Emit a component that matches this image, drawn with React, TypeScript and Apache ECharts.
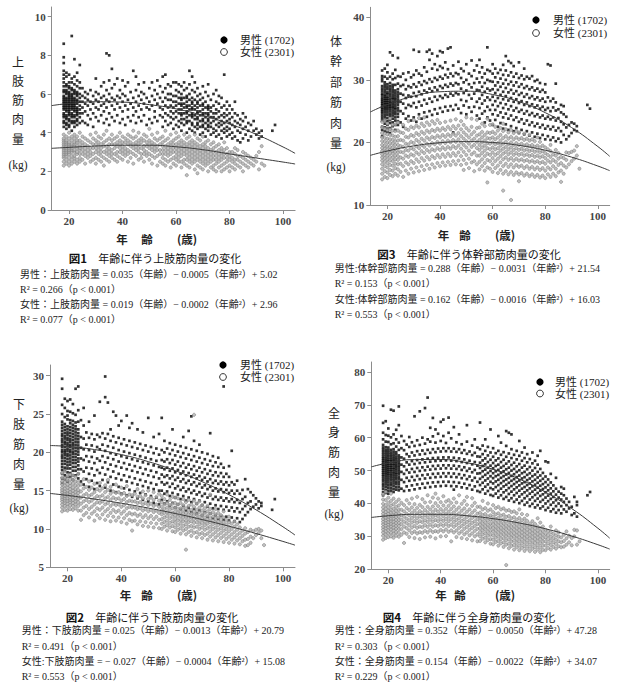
import React, { useEffect, useRef } from "react";
import * as echarts from "echarts";

// ---------- DATA ----------
// Each row: [age, value, value, ...]
const UL_M: number[][] = [
  [18, 4.3, 4.6, 4.8, 5.0, 5.2, 5.4, 5.5, 5.7, 5.9, 6.1, 6.4, 6.8, 7.2, 7.6, 7.9, 8.6],
  [19, 4.2, 4.5, 4.7, 4.9, 5.1, 5.3, 5.4, 5.6, 5.8, 6.0, 6.2, 6.5, 6.9, 7.1],
  [20, 4.4, 4.6, 4.9, 5.0, 5.2, 5.3, 5.5, 5.6, 5.8, 5.9, 6.1, 6.3, 6.6, 7.0],
  [21, 4.1, 4.5, 4.8, 5.0, 5.2, 5.4, 5.5, 5.7, 5.9, 6.0, 6.3, 6.6, 6.8, 9.0],
  [22, 4.3, 4.6, 4.8, 5.1, 5.3, 5.4, 5.6, 5.8, 6.0, 6.2, 6.5, 6.9, 7.8],
  [23, 4.4, 4.7, 4.9, 5.1, 5.3, 5.5, 5.7, 5.9, 6.1, 6.4, 6.7, 7.1],
  [24, 4.5, 4.8, 5.0, 5.2, 5.4, 5.6, 5.8, 6.0, 6.3, 6.6, 7.5],
  [25, 4.6, 5.0, 5.3, 5.6, 5.9, 6.3],
  [26, 4.5, 5.1, 5.5, 5.8, 6.1],
  [27, 4.4, 4.9, 5.4, 5.7, 6.0],
  [28, 4.7, 5.2, 5.6, 6.2],
  [29, 4.3, 5.0, 5.5, 5.9],
  [30, 4.8, 5.3, 5.7, 6.1, 6.8],
  [31, 4.6, 5.2, 5.6, 6.0],
  [32, 4.9, 5.4, 5.8, 6.4],
  [33, 4.5, 5.1, 5.5, 5.9, 6.6],
  [34, 4.7, 5.3, 5.7, 6.2, 8.1],
  [35, 4.4, 5.0, 5.6, 6.0, 6.7, 8.0],
  [36, 4.8, 5.4, 5.8, 6.3, 7.3],
  [37, 4.6, 5.2, 5.7, 6.5],
  [38, 4.9, 5.5, 5.9, 6.8],
  [39, 4.5, 5.3, 5.8, 6.2],
  [40, 4.7, 5.1, 5.6, 6.0, 6.7],
  [41, 4.4, 5.4, 5.9, 6.4],
  [42, 4.8, 5.2, 5.7, 6.6],
  [43, 4.6, 5.5, 6.1],
  [44, 4.9, 5.3, 5.8, 7.2],
  [45, 4.5, 5.1, 5.6, 6.2, 6.9],
  [46, 4.8, 5.4, 5.9, 6.5],
  [47, 4.6, 5.2, 5.7, 6.1],
  [48, 4.9, 5.5, 6.0, 6.6],
  [49, 4.4, 5.3, 5.8],
  [50, 4.7, 5.2, 5.6, 6.3],
  [51, 4.5, 5.4, 5.9, 6.6],
  [52, 4.8, 5.1, 5.7, 6.2],
  [53, 4.6, 5.5, 6.0, 6.7],
  [54, 4.9, 5.3, 5.8, 6.4],
  [55, 4.3, 4.8, 5.2, 5.6, 6.1, 6.9],
  [56, 4.6, 5.0, 5.4, 5.8, 6.3, 7.0],
  [57, 4.4, 4.9, 5.3, 5.7, 6.0, 6.5],
  [58, 4.5, 4.8, 5.1, 5.4, 5.7, 6.0, 6.4],
  [59, 4.2, 4.7, 5.0, 5.3, 5.6, 5.9, 6.6],
  [60, 4.4, 4.8, 5.1, 5.4, 5.6, 5.9, 6.2, 6.6],
  [61, 4.3, 4.6, 5.0, 5.2, 5.5, 5.8, 6.1, 6.5],
  [62, 4.1, 4.5, 4.9, 5.2, 5.4, 5.7, 6.0, 6.4],
  [63, 4.4, 4.7, 5.0, 5.3, 5.5, 5.8, 6.2, 6.6],
  [64, 4.0, 4.5, 4.8, 5.1, 5.4, 5.6, 5.9, 6.3],
  [65, 4.2, 4.6, 4.9, 5.2, 5.4, 5.7, 6.0, 6.5, 7.2],
  [66, 4.1, 4.4, 4.8, 5.0, 5.3, 5.5, 5.8, 6.2, 6.9],
  [67, 4.0, 4.3, 4.7, 4.9, 5.2, 5.4, 5.7, 6.1, 6.6],
  [68, 4.2, 4.5, 4.7, 5.0, 5.3, 5.5, 5.9, 6.3],
  [69, 3.9, 4.3, 4.6, 4.9, 5.1, 5.4, 5.7, 6.0],
  [70, 4.0, 4.4, 4.7, 4.9, 5.2, 5.5, 5.8, 6.4],
  [71, 3.8, 4.2, 4.5, 4.8, 5.0, 5.3, 5.6, 6.1],
  [72, 4.1, 4.4, 4.6, 4.9, 5.2, 5.4, 5.9, 6.5],
  [73, 3.9, 4.3, 4.5, 4.8, 5.1, 5.3, 5.7],
  [74, 4.0, 4.2, 4.6, 4.8, 5.0, 5.4, 6.0],
  [75, 3.8, 4.1, 4.4, 4.7, 5.0, 5.2, 5.6, 6.2],
  [76, 3.9, 4.3, 4.5, 4.8, 5.1, 5.5, 5.9],
  [77, 3.7, 4.1, 4.4, 4.6, 4.9, 5.3, 5.8],
  [78, 4.0, 4.2, 4.5, 4.8, 5.0, 5.4, 7.0],
  [79, 3.8, 4.1, 4.3, 4.6, 4.9, 5.2, 5.6],
  [80, 3.9, 4.2, 4.5, 4.7, 5.0, 5.4],
  [81, 3.7, 4.0, 4.4, 4.8, 5.2],
  [82, 3.8, 4.3, 4.6, 5.0, 5.6],
  [83, 3.6, 4.1, 4.5, 4.9],
  [84, 3.5, 4.0, 4.4, 4.7],
  [85, 3.7, 4.2, 4.6, 5.0],
  [86, 3.9, 4.3, 4.8],
  [87, 3.6, 4.1, 4.5],
  [88, 3.8, 4.4],
  [89, 4.1, 4.6],
  [90, 3.9, 4.2],
  [91, 3.7, 4.0],
  [92, 3.8, 4.1],
  [96, 4.1],
  [97, 4.4],
  [18, 4.5, 4.9, 5.3, 5.6, 5.8, 6.2, 6.6, 7.0],
  [19, 4.4, 4.8, 5.2, 5.5, 5.7, 6.1, 6.4],
  [20, 4.3, 4.7, 5.1, 5.4, 5.7, 6.0, 6.4],
  [21, 4.6, 4.9, 5.3, 5.6, 5.8, 6.2],
  [22, 4.5, 4.9, 5.2, 5.5, 5.7, 6.1],
  [23, 4.6, 5.0, 5.2, 5.6, 6.0],
  [62, 4.7, 5.0, 5.5, 5.8],
  [64, 4.6, 5.0, 5.3, 5.8],
  [66, 4.5, 4.9, 5.2, 5.6],
  [68, 4.4, 4.8, 5.1, 5.6],
  [70, 4.3, 4.6, 5.0, 5.4],
  [72, 4.3, 4.7, 5.0, 5.3],
];

const UL_F: number[][] = [
  [18, 2.3, 2.5, 2.7, 2.8, 2.9, 3.0, 3.1, 3.2, 3.3, 3.4, 3.5, 3.6, 3.7, 3.9],
  [19, 2.4, 2.6, 2.8, 2.9, 3.0, 3.1, 3.2, 3.3, 3.4, 3.5, 3.6, 3.8],
  [20, 2.3, 2.5, 2.7, 2.9, 3.0, 3.1, 3.2, 3.3, 3.4, 3.5, 3.7, 4.0],
  [21, 2.4, 2.6, 2.8, 3.0, 3.1, 3.2, 3.3, 3.4, 3.6, 3.8],
  [22, 2.5, 2.7, 2.8, 3.0, 3.1, 3.3, 3.4, 3.5, 3.7, 3.9],
  [23, 2.4, 2.6, 2.9, 3.0, 3.2, 3.3, 3.5, 3.6, 3.8],
  [24, 2.5, 2.7, 2.9, 3.1, 3.2, 3.4, 3.6, 4.0],
  [25, 2.6, 2.9, 3.1, 3.3, 3.5, 3.8],
  [26, 2.4, 2.8, 3.0, 3.2, 3.4, 3.7],
  [27, 2.7, 2.9, 3.1, 3.3, 3.6],
  [28, 2.5, 2.8, 3.0, 3.2, 3.5, 3.9],
  [29, 2.6, 2.9, 3.2, 3.4, 3.7],
  [30, 2.4, 2.7, 3.0, 3.2, 3.4, 3.6, 4.0],
  [31, 2.6, 2.9, 3.1, 3.3, 3.5, 3.8],
  [32, 2.5, 2.8, 3.0, 3.2, 3.4, 3.7],
  [33, 2.3, 2.7, 3.0, 3.3, 3.5, 3.9],
  [34, 2.6, 2.9, 3.1, 3.3, 3.6, 4.1],
  [35, 2.5, 2.8, 3.0, 3.2, 3.4, 3.7],
  [36, 2.7, 2.9, 3.1, 3.4, 3.6, 3.9],
  [37, 2.6, 2.9, 3.2, 3.4, 3.7],
  [38, 2.5, 2.8, 3.0, 3.3, 3.5, 3.8],
  [39, 2.7, 3.0, 3.2, 3.4, 3.6, 4.0],
  [40, 2.6, 2.9, 3.1, 3.3, 3.5, 3.8],
  [41, 2.8, 3.0, 3.2, 3.5, 3.7],
  [42, 2.5, 2.9, 3.1, 3.4, 3.6, 3.9],
  [43, 2.7, 3.0, 3.3, 3.5, 3.8],
  [44, 2.4, 2.9, 3.2, 3.4, 3.7, 4.1],
  [45, 2.8, 3.1, 3.3, 3.5, 3.8],
  [46, 2.6, 3.0, 3.2, 3.4, 3.6, 4.0],
  [47, 2.7, 2.9, 3.2, 3.5, 3.7],
  [48, 2.5, 2.9, 3.1, 3.3, 3.6, 3.9],
  [49, 2.8, 3.0, 3.3, 3.5, 3.8],
  [50, 2.6, 2.9, 3.2, 3.4, 3.6, 4.2],
  [51, 2.4, 2.8, 3.1, 3.3, 3.5, 3.9],
  [52, 2.7, 3.0, 3.2, 3.4, 3.7],
  [53, 2.3, 2.8, 3.1, 3.3, 3.6, 4.0],
  [54, 2.5, 2.9, 3.1, 3.4, 3.7],
  [55, 2.4, 2.7, 2.9, 3.1, 3.3, 3.5, 3.8],
  [56, 2.3, 2.6, 2.9, 3.1, 3.3, 3.6, 4.1],
  [57, 2.5, 2.8, 3.0, 3.2, 3.4, 3.7],
  [58, 2.2, 2.6, 2.9, 3.1, 3.3, 3.5, 3.9],
  [59, 2.4, 2.7, 3.0, 3.2, 3.4, 3.6],
  [60, 2.3, 2.6, 2.8, 3.0, 3.2, 3.4, 3.7, 4.0],
  [61, 2.5, 2.7, 2.9, 3.1, 3.3, 3.5, 3.8],
  [62, 2.2, 2.5, 2.8, 3.0, 3.2, 3.4, 3.6],
  [63, 2.4, 2.6, 2.9, 3.1, 3.3, 3.5, 3.9],
  [64, 1.8, 2.3, 2.6, 2.8, 3.0, 3.2, 3.4, 3.7],
  [65, 2.2, 2.5, 2.7, 2.9, 3.1, 3.3, 3.5, 3.8],
  [66, 2.4, 2.6, 2.8, 3.0, 3.2, 3.4, 3.6],
  [67, 2.1, 2.5, 2.7, 2.9, 3.1, 3.3, 3.5, 3.9],
  [68, 1.9, 2.3, 2.6, 2.8, 3.0, 3.2, 3.4, 3.7],
  [69, 2.2, 2.5, 2.7, 2.9, 3.1, 3.3, 3.6],
  [70, 2.1, 2.4, 2.6, 2.8, 3.0, 3.2, 3.4, 3.8],
  [71, 2.3, 2.5, 2.7, 2.9, 3.1, 3.3, 3.5],
  [72, 2.0, 2.4, 2.6, 2.8, 3.0, 3.2, 3.6],
  [73, 2.2, 2.5, 2.7, 2.9, 3.1, 3.4],
  [74, 2.1, 2.3, 2.6, 2.8, 3.0, 3.2, 3.5],
  [75, 2.0, 2.4, 2.6, 2.8, 3.0, 3.3],
  [76, 2.2, 2.5, 2.7, 2.9, 3.1, 3.4],
  [77, 2.0, 2.3, 2.6, 2.8, 3.0, 3.2],
  [78, 2.1, 2.4, 2.7, 2.9, 3.1, 3.5],
  [79, 2.2, 2.5, 2.7, 2.9, 3.2],
  [80, 2.0, 2.3, 2.6, 2.8, 3.0],
  [81, 2.2, 2.5, 2.7, 3.0],
  [82, 2.1, 2.4, 2.6, 2.9, 3.2],
  [83, 2.3, 2.6, 2.8, 3.1],
  [84, 2.2, 2.5, 2.8],
  [85, 2.0, 2.4, 2.7, 3.0],
  [86, 2.3, 2.6, 2.9],
  [87, 2.2, 2.5, 2.8],
  [88, 2.4, 2.7],
  [89, 2.3, 2.6],
  [90, 2.5, 2.8],
  [91, 2.1, 3.0],
  [92, 2.4, 3.3],
  [93, 2.3],
];

const TR_M: number[][] = [
  [18, 21.0, 22.5, 23.5, 24.3, 25.0, 25.6, 26.2, 26.8, 27.5, 28.2, 29.0, 29.8, 30.6, 31.5],
  [19, 21.8, 23.0, 24.0, 24.8, 25.5, 26.1, 26.7, 27.3, 28.0, 28.8, 29.6, 30.5, 31.8],
  [20, 22.2, 23.4, 24.4, 25.2, 25.8, 26.4, 27.0, 27.7, 28.5, 29.3, 30.2, 31.2, 32.4],
  [21, 21.5, 23.1, 24.2, 25.0, 25.7, 26.3, 27.0, 27.8, 28.6, 29.5, 30.5, 34.4],
  [22, 22.6, 23.8, 24.7, 25.5, 26.2, 26.9, 27.6, 28.4, 29.2, 30.1, 31.0, 33.9],
  [23, 22.0, 23.5, 24.5, 25.3, 26.0, 26.8, 27.5, 28.3, 29.2, 30.3, 31.6],
  [24, 22.8, 24.1, 25.1, 26.0, 26.8, 27.6, 28.5, 29.4, 30.6, 33.5],
  [25, 23.2, 25.0, 26.5, 27.8, 29.0, 30.5],
  [26, 22.5, 24.6, 26.2, 27.6, 29.2, 31.0],
  [27, 23.8, 25.5, 27.1, 28.5, 30.0],
  [28, 24.2, 26.0, 27.5, 29.0, 31.2],
  [29, 23.5, 25.8, 27.3, 28.8, 30.4],
  [30, 24.0, 26.3, 27.9, 29.3, 30.8, 34.8],
  [31, 23.3, 25.6, 27.4, 28.9, 31.5],
  [32, 24.5, 26.5, 28.1, 29.6, 31.0, 34.5],
  [33, 23.8, 25.9, 27.7, 29.2, 30.7],
  [34, 24.8, 26.8, 28.3, 29.8, 32.0],
  [35, 24.1, 26.2, 28.0, 29.5, 31.3, 34.5],
  [36, 25.0, 27.0, 28.6, 30.1, 33.2, 34.8],
  [37, 24.4, 26.5, 28.2, 29.7, 31.8, 34.2],
  [38, 25.3, 27.3, 28.8, 30.3, 32.5],
  [39, 24.6, 26.8, 28.4, 30.0, 31.6, 33.8],
  [40, 25.5, 27.4, 29.0, 30.5, 32.2, 34.6],
  [41, 24.9, 27.1, 28.7, 30.2, 31.9, 34.4],
  [42, 25.7, 27.6, 29.2, 30.8, 32.8],
  [43, 25.1, 27.3, 28.9, 30.4, 31.7, 35.0],
  [44, 25.8, 27.8, 29.4, 31.0, 35.2],
  [45, 21.6, 25.2, 27.5, 29.1, 30.6, 32.3],
  [46, 26.0, 27.9, 29.5, 31.1],
  [47, 25.4, 27.7, 29.3, 30.9, 32.9],
  [48, 24.7, 26.8, 28.6, 30.3, 31.8],
  [49, 25.9, 27.9, 29.6, 31.4],
  [50, 24.5, 26.6, 28.3, 30.0, 32.5],
  [51, 25.6, 27.6, 29.3, 31.0],
  [52, 24.9, 27.0, 28.8, 30.6, 33.1],
  [53, 25.7, 27.8, 29.5, 31.5],
  [54, 24.3, 26.5, 28.4, 30.2, 32.3],
  [55, 23.8, 25.5, 27.0, 28.3, 29.6, 31.2, 33.2],
  [56, 24.6, 26.2, 27.6, 28.9, 30.4, 32.0],
  [57, 23.2, 25.0, 26.7, 28.1, 29.5, 31.0],
  [58, 24.0, 25.7, 27.2, 28.6, 30.0, 31.6, 35.2],
  [59, 23.5, 25.2, 26.8, 28.3, 29.8, 31.4],
  [60, 22.8, 24.5, 26.0, 27.3, 28.5, 29.7, 31.0, 32.5],
  [61, 23.6, 25.2, 26.6, 27.9, 29.1, 30.4, 31.8],
  [62, 22.5, 24.3, 25.8, 27.1, 28.4, 29.6, 31.1],
  [63, 23.1, 24.8, 26.3, 27.6, 28.9, 30.2, 31.6],
  [64, 22.2, 24.0, 25.5, 26.9, 28.1, 29.4, 30.8, 32.4],
  [65, 22.9, 24.6, 26.1, 27.4, 28.7, 30.0, 31.5, 33.8],
  [66, 22.0, 23.8, 25.3, 26.7, 28.0, 29.3, 30.7, 33.0],
  [67, 22.6, 24.3, 25.8, 27.1, 28.4, 29.7, 31.2, 32.7],
  [68, 21.8, 23.6, 25.1, 26.5, 27.8, 29.1, 30.5, 32.2],
  [69, 22.3, 24.0, 25.5, 26.9, 28.2, 29.6, 31.0],
  [70, 21.5, 23.3, 24.9, 26.3, 27.6, 28.9, 30.3, 32.8],
  [71, 22.0, 23.7, 25.2, 26.6, 27.9, 29.3, 30.7],
  [72, 21.3, 23.0, 24.6, 26.0, 27.3, 28.7, 30.1, 31.8],
  [73, 21.8, 23.5, 25.0, 26.4, 27.7, 29.0, 30.5],
  [74, 21.1, 22.8, 24.4, 25.8, 27.1, 28.5, 30.2],
  [75, 21.6, 23.2, 24.7, 26.1, 27.4, 28.8, 30.6],
  [76, 20.9, 22.6, 24.2, 25.6, 26.9, 28.3, 29.8],
  [77, 21.4, 23.0, 24.5, 25.9, 27.2, 28.6, 30.0],
  [78, 20.7, 22.4, 24.0, 25.4, 26.7, 28.1, 29.5],
  [79, 21.2, 22.8, 24.3, 25.7, 27.0, 28.4],
  [80, 20.5, 22.2, 23.8, 25.2, 26.5, 28.0, 29.3],
  [81, 21.0, 22.6, 24.1, 25.5, 27.2, 32.5],
  [82, 20.4, 22.1, 23.7, 25.0, 26.6, 32.3],
  [83, 20.8, 22.5, 24.0, 25.6, 27.0],
  [84, 20.2, 21.9, 23.5, 25.1, 26.4, 29.4],
  [85, 20.6, 22.3, 23.9, 25.3],
  [86, 20.0, 21.8, 23.3, 24.8, 26.0],
  [87, 21.2, 22.9, 24.5, 25.8],
  [88, 20.5, 22.4, 24.1],
  [89, 21.0, 22.8],
  [90, 21.5, 23.2],
  [91, 22.0, 23.0],
  [92, 21.8, 22.6],
  [96, 26.0],
  [97, 25.4],
  [18, 22.0, 23.9, 24.7, 25.3, 25.9, 26.5, 27.1, 27.8, 28.6, 30.2],
  [19, 22.4, 23.5, 24.4, 25.2, 25.8, 26.4, 27.0, 27.6, 28.4, 29.2],
  [20, 21.7, 22.8, 23.9, 24.8, 25.5, 26.1, 26.7, 27.3, 28.0, 28.9],
  [21, 22.3, 23.6, 24.6, 25.4, 26.0, 26.6, 27.4, 28.2, 29.0],
  [22, 23.2, 24.3, 25.1, 25.8, 26.5, 27.2, 28.0, 28.8],
  [23, 22.8, 24.0, 24.9, 25.6, 26.4, 27.1, 27.9],
  [24, 23.4, 24.6, 25.5, 26.4, 27.2, 28.0],
];

const TR_F: number[][] = [
  [18, 14.1, 15.0, 15.8, 16.5, 17.1, 17.6, 18.1, 18.6, 19.1, 19.6, 20.2, 20.8, 21.5, 22.4, 23.3],
  [19, 14.5, 15.4, 16.2, 16.9, 17.5, 18.0, 18.5, 19.0, 19.5, 20.1, 20.7, 21.4, 22.2, 23.5],
  [20, 14.3, 15.2, 16.0, 16.7, 17.3, 17.9, 18.4, 18.9, 19.4, 20.0, 20.6, 21.3, 22.0, 23.0],
  [21, 14.8, 15.6, 16.4, 17.1, 17.7, 18.3, 18.8, 19.3, 19.9, 20.5, 21.2, 22.1, 23.8],
  [22, 14.6, 15.5, 16.3, 17.0, 17.6, 18.2, 18.7, 19.2, 19.8, 20.4, 21.1, 21.9, 22.8],
  [23, 15.0, 15.9, 16.6, 17.3, 17.9, 18.5, 19.0, 19.6, 20.2, 20.9, 21.8, 22.9],
  [24, 14.7, 15.7, 16.5, 17.2, 17.8, 18.4, 19.0, 19.6, 20.3, 21.0, 21.9, 23.2],
  [25, 15.3, 16.6, 17.6, 18.5, 19.4, 20.4, 21.6],
  [26, 14.5, 16.2, 17.4, 18.4, 19.3, 20.3, 21.5, 22.8],
  [27, 15.5, 16.8, 17.9, 18.8, 19.8, 20.9, 22.2],
  [28, 15.0, 16.5, 17.7, 18.7, 19.7, 20.8, 22.0, 23.4],
  [29, 15.8, 17.0, 18.1, 19.1, 20.1, 21.2, 22.5],
  [30, 15.2, 16.7, 17.9, 18.9, 19.9, 21.0, 22.3, 23.6],
  [31, 16.0, 17.3, 18.4, 19.4, 20.4, 21.5, 22.7],
  [32, 15.4, 16.9, 18.1, 19.1, 20.1, 21.2, 22.4, 23.9],
  [33, 16.2, 17.5, 18.6, 19.6, 20.6, 21.7, 23.0],
  [34, 15.6, 17.1, 18.3, 19.3, 20.3, 21.4, 22.6, 24.0],
  [35, 16.4, 17.7, 18.8, 19.8, 20.8, 21.9, 23.2],
  [36, 15.8, 17.3, 18.5, 19.5, 20.5, 21.6, 22.8],
  [37, 16.5, 17.8, 18.9, 19.9, 20.9, 22.0, 23.4],
  [38, 16.0, 17.5, 18.7, 19.7, 20.7, 21.8, 23.0],
  [39, 16.7, 18.0, 19.1, 20.1, 21.1, 22.2, 23.6],
  [40, 16.2, 17.6, 18.8, 19.8, 20.8, 21.9, 23.1],
  [41, 16.8, 18.1, 19.2, 20.2, 21.2, 22.3],
  [42, 16.3, 17.7, 18.9, 19.9, 20.9, 22.0, 23.3],
  [43, 16.9, 18.2, 19.3, 20.3, 21.3, 22.5],
  [44, 16.4, 17.8, 19.0, 20.0, 21.0, 22.1, 23.5],
  [45, 17.0, 18.3, 19.4, 20.4, 21.4, 22.6],
  [46, 16.5, 17.9, 19.1, 20.1, 21.1, 22.2, 23.7],
  [47, 17.1, 18.4, 19.5, 20.5, 21.5, 22.7],
  [48, 16.4, 17.8, 19.0, 20.0, 21.0, 22.1, 23.4],
  [49, 15.6, 17.2, 18.5, 19.6, 20.6, 21.6, 22.8],
  [50, 16.6, 18.0, 19.2, 20.2, 21.2, 22.3, 24.0],
  [51, 15.9, 17.4, 18.7, 19.8, 20.8, 21.9],
  [52, 16.8, 18.1, 19.3, 20.3, 21.3, 22.5, 23.8],
  [53, 15.4, 17.0, 18.4, 19.6, 20.6, 21.7],
  [54, 16.5, 17.9, 19.1, 20.1, 21.1, 22.3, 23.6],
  [55, 15.7, 16.9, 17.9, 18.8, 19.6, 20.4, 21.3, 22.4],
  [56, 16.2, 17.3, 18.3, 19.2, 20.0, 20.8, 21.7, 23.0],
  [57, 15.5, 16.7, 17.8, 18.7, 19.5, 20.3, 21.2, 22.6],
  [58, 13.6, 16.0, 17.2, 18.2, 19.1, 19.9, 20.7, 21.6, 23.8],
  [59, 15.8, 17.0, 18.0, 18.9, 19.8, 20.6, 21.5, 22.8],
  [60, 15.3, 16.5, 17.5, 18.4, 19.2, 20.0, 20.8, 21.7, 22.9],
  [61, 15.9, 17.0, 18.0, 18.9, 19.7, 20.5, 21.4, 22.5],
  [62, 15.1, 16.3, 17.4, 18.3, 19.1, 19.9, 20.8, 21.9],
  [63, 15.6, 16.8, 17.8, 18.7, 19.5, 20.3, 21.2, 22.3],
  [64, 12.3, 15.0, 16.2, 17.3, 18.2, 19.0, 19.8, 20.7, 21.8, 23.0],
  [65, 15.4, 16.6, 17.6, 18.5, 19.3, 20.1, 21.0, 22.1],
  [66, 14.9, 16.1, 17.2, 18.1, 18.9, 19.7, 20.6, 21.6],
  [67, 10.8, 15.3, 16.5, 17.5, 18.4, 19.2, 20.0, 20.9, 22.0],
  [68, 14.8, 16.0, 17.1, 18.0, 18.8, 19.6, 20.5, 21.5],
  [69, 15.2, 16.4, 17.4, 18.3, 19.1, 19.9, 20.8, 21.8],
  [70, 13.8, 14.9, 16.1, 17.1, 18.0, 18.8, 19.6, 20.5, 21.6],
  [71, 15.1, 16.3, 17.3, 18.2, 19.0, 19.8, 20.7],
  [72, 14.7, 15.9, 17.0, 17.9, 18.7, 19.5, 20.4, 21.4],
  [73, 15.0, 16.2, 17.2, 18.1, 18.9, 19.7, 20.6],
  [74, 14.6, 15.8, 16.9, 17.8, 18.6, 19.4, 20.3, 21.2],
  [75, 14.9, 16.1, 17.1, 18.0, 18.8, 19.6, 20.5],
  [76, 14.5, 15.7, 16.8, 17.7, 18.5, 19.3, 20.2],
  [77, 14.8, 16.0, 17.0, 17.9, 18.7, 19.5, 20.8],
  [78, 14.4, 15.6, 16.7, 17.6, 18.4, 19.2, 20.1],
  [79, 14.7, 15.9, 16.9, 17.8, 18.6, 19.5],
  [80, 14.3, 15.5, 16.6, 17.5, 18.3, 19.2],
  [81, 14.9, 16.0, 17.1, 18.0, 18.9],
  [82, 14.5, 15.7, 16.8, 17.7, 18.6, 19.6],
  [83, 15.0, 16.2, 17.2, 18.1],
  [84, 14.6, 15.8, 16.9, 17.9, 18.8],
  [85, 15.2, 16.4, 17.4, 18.3],
  [86, 13.7, 15.5, 16.7, 17.7],
  [87, 15.0, 16.3, 17.5],
  [88, 16.0, 17.2, 18.4],
  [89, 16.5, 18.3],
  [90, 17.0, 18.5],
  [91, 17.4, 18.7],
  [92, 17.9, 19.4],
  [93, 15.8],
];

const LL_M: number[][] = [
  [18, 16.0, 17.2, 18.1, 18.9, 19.6, 20.3, 21.0, 21.7, 22.4, 23.2, 24.0, 25.0, 26.2, 28.3, 29.6],
  [19, 16.5, 17.6, 18.5, 19.3, 20.0, 20.7, 21.4, 22.1, 22.9, 23.7, 24.6, 25.8, 27.0],
  [20, 16.2, 17.4, 18.3, 19.1, 19.8, 20.5, 21.2, 21.9, 22.6, 23.4, 24.3, 25.4, 26.7],
  [21, 16.8, 17.9, 18.8, 19.6, 20.3, 21.0, 21.7, 22.5, 23.3, 24.2, 25.3, 26.9],
  [22, 16.4, 17.6, 18.6, 19.4, 20.1, 20.9, 21.6, 22.4, 23.2, 24.1, 25.1, 26.3],
  [23, 17.0, 18.1, 19.0, 19.8, 20.6, 21.4, 22.2, 23.0, 23.9, 24.9, 28.3],
  [24, 16.6, 17.8, 18.8, 19.7, 20.5, 21.3, 22.1, 23.0, 24.0, 25.5, 28.6],
  [25, 16.2, 17.8, 19.2, 20.6, 22.0, 24.2],
  [26, 15.8, 17.5, 19.0, 20.4, 21.8, 23.5, 25.8],
  [27, 16.5, 18.0, 19.5, 21.0, 22.6],
  [28, 15.5, 17.2, 18.8, 20.3, 21.9, 24.0],
  [29, 16.3, 17.9, 19.4, 20.9, 22.4],
  [30, 15.2, 17.0, 18.6, 20.1, 21.7, 24.8],
  [31, 16.0, 17.7, 19.2, 20.7, 22.3],
  [32, 15.6, 17.3, 18.9, 20.4, 22.0, 26.6],
  [33, 16.4, 18.0, 19.5, 21.0, 22.5],
  [34, 15.4, 17.1, 18.7, 20.2, 21.8, 27.2, 29.9],
  [35, 16.1, 17.8, 19.3, 20.8, 22.4, 26.5],
  [36, 15.0, 16.8, 18.4, 19.9, 21.5, 23.0],
  [37, 15.8, 17.5, 19.1, 20.6, 22.1, 25.3],
  [38, 14.8, 16.6, 18.2, 19.7, 21.3, 24.8],
  [39, 15.5, 17.2, 18.8, 20.3, 21.9, 23.5],
  [40, 14.6, 16.4, 18.0, 19.5, 21.1, 24.1],
  [41, 15.3, 17.0, 18.6, 20.1, 21.7],
  [42, 14.4, 16.2, 17.8, 19.3, 20.9, 24.8],
  [43, 15.1, 16.8, 18.4, 19.9, 21.5, 23.2],
  [44, 14.2, 16.0, 17.6, 19.1, 20.7, 23.8],
  [45, 14.9, 16.6, 18.2, 19.7, 21.3],
  [46, 14.0, 15.8, 17.4, 18.9, 20.5, 23.0],
  [47, 14.7, 16.4, 18.0, 19.5, 21.1],
  [48, 13.8, 15.6, 17.2, 18.7, 20.3, 22.6],
  [49, 14.5, 16.2, 17.8, 19.3, 20.9],
  [50, 13.6, 15.4, 17.0, 18.5, 20.1, 24.5],
  [51, 14.3, 16.0, 17.6, 19.1, 20.7],
  [52, 13.4, 15.2, 16.8, 18.3, 19.9, 22.0],
  [53, 14.1, 15.8, 17.4, 18.9, 20.5],
  [54, 13.2, 15.0, 16.6, 18.1, 19.7, 22.4],
  [55, 13.8, 15.0, 16.1, 17.1, 18.0, 19.0, 20.3, 24.5],
  [56, 13.3, 14.6, 15.8, 16.8, 17.8, 18.8, 20.0, 21.5],
  [57, 13.6, 14.9, 16.0, 17.0, 18.0, 19.1, 20.5],
  [58, 13.0, 14.3, 15.5, 16.6, 17.6, 18.6, 19.8, 21.2],
  [59, 13.4, 14.7, 15.9, 16.9, 17.9, 19.0, 20.3, 23.0],
  [60, 12.8, 14.1, 15.3, 16.4, 17.4, 18.4, 19.6, 21.0],
  [61, 13.2, 14.5, 15.6, 16.7, 17.7, 18.8, 20.1],
  [62, 12.6, 13.9, 15.1, 16.2, 17.2, 18.2, 19.4, 20.8],
  [63, 13.0, 14.3, 15.4, 16.5, 17.5, 18.6, 19.9, 22.0],
  [64, 12.4, 13.7, 14.9, 16.0, 17.0, 18.0, 19.2, 20.6],
  [65, 12.8, 14.1, 15.2, 16.3, 17.3, 18.4, 19.7, 22.8],
  [66, 12.2, 13.5, 14.7, 15.8, 16.8, 17.8, 19.0, 20.4, 24.7],
  [67, 12.6, 13.9, 15.0, 16.1, 17.1, 18.2, 19.5, 21.5],
  [68, 12.0, 13.3, 14.5, 15.6, 16.6, 17.6, 18.8, 20.2],
  [69, 12.4, 13.7, 14.8, 15.9, 16.9, 18.0, 19.3, 21.0],
  [70, 11.8, 13.1, 14.3, 15.4, 16.4, 17.4, 18.6, 20.0],
  [71, 12.2, 13.5, 14.6, 15.7, 16.7, 17.8, 19.1],
  [72, 11.6, 12.9, 14.1, 15.2, 16.2, 17.2, 18.4, 19.8],
  [73, 12.0, 13.3, 14.4, 15.5, 16.5, 17.6, 18.9, 22.5],
  [74, 11.4, 12.7, 13.9, 15.0, 16.0, 17.0, 18.2, 19.5],
  [75, 11.8, 13.1, 14.2, 15.3, 16.3, 17.4, 18.7],
  [76, 11.3, 12.6, 13.8, 14.9, 15.9, 16.9, 18.1, 19.3],
  [77, 11.7, 13.0, 14.1, 15.2, 16.2, 17.3, 18.5],
  [78, 11.2, 12.5, 13.7, 14.8, 15.8, 16.8, 18.0, 28.6],
  [79, 11.6, 12.9, 14.0, 15.1, 16.1, 17.2],
  [80, 11.1, 12.4, 13.6, 14.7, 15.7, 16.8, 18.2],
  [81, 11.5, 12.8, 13.9, 15.0, 16.1, 20.2],
  [82, 11.0, 12.3, 13.5, 14.6, 15.8],
  [83, 11.4, 12.7, 13.8, 15.0, 16.3],
  [84, 10.9, 12.2, 13.4, 14.6],
  [85, 11.3, 12.6, 13.9, 15.1],
  [86, 11.8, 13.0, 14.2, 16.5],
  [87, 12.2, 13.4, 15.2],
  [88, 12.6, 13.6, 14.8],
  [89, 12.9, 14.4],
  [90, 13.2, 14.0],
  [91, 12.7, 13.6],
  [92, 13.0, 13.4],
  [96, 12.5],
  [97, 13.9],
  [18, 16.6, 17.7, 18.5, 19.3, 20.0, 20.7, 21.4, 22.1, 22.8, 23.6],
  [19, 17.0, 18.0, 18.9, 19.7, 20.3, 21.1, 21.8, 22.5, 23.3],
  [20, 16.8, 17.9, 18.7, 19.5, 20.2, 20.9, 21.6, 22.3, 23.0, 24.8],
  [21, 17.3, 18.4, 19.2, 20.0, 20.7, 21.4, 22.1, 22.9, 23.8],
  [22, 17.0, 18.1, 19.0, 19.8, 20.5, 21.2, 22.0, 22.8, 23.6],
  [23, 17.6, 18.6, 19.4, 20.2, 21.0, 21.8, 22.6, 23.4],
  [24, 17.2, 18.3, 19.2, 20.1, 20.9, 21.7, 22.5],
];

const LL_F: number[][] = [
  [18, 12.3, 12.8, 13.2, 13.6, 13.9, 14.2, 14.5, 14.8, 15.1, 15.4, 15.8, 16.2, 16.7, 17.3],
  [19, 12.5, 13.0, 13.4, 13.7, 14.0, 14.3, 14.6, 14.9, 15.3, 15.7, 16.1, 16.6, 17.5],
  [20, 12.4, 12.9, 13.3, 13.7, 14.0, 14.4, 14.7, 15.0, 15.4, 15.8, 16.3, 16.9],
  [21, 12.6, 13.1, 13.5, 13.8, 14.1, 14.5, 14.8, 15.2, 15.6, 16.0, 16.5, 17.1],
  [22, 12.5, 13.0, 13.4, 13.8, 14.2, 14.6, 15.0, 15.4, 15.9, 16.4, 17.0],
  [23, 12.7, 13.2, 13.6, 14.0, 14.4, 14.8, 15.2, 15.7, 16.2, 16.8],
  [24, 12.4, 13.0, 13.5, 13.9, 14.3, 14.7, 15.1, 15.6, 16.1, 17.2],
  [25, 11.2, 12.4, 13.3, 14.1, 14.9, 15.8],
  [26, 11.8, 12.8, 13.6, 14.4, 15.3, 16.5],
  [27, 12.1, 13.0, 13.8, 14.6, 15.5],
  [28, 11.5, 12.6, 13.5, 14.3, 15.1, 16.2],
  [29, 12.0, 12.9, 13.7, 14.5, 15.4],
  [30, 11.1, 12.3, 13.2, 14.0, 14.8, 15.9],
  [31, 11.8, 12.7, 13.5, 14.3, 15.2],
  [32, 11.4, 12.5, 13.4, 14.2, 15.0, 16.0],
  [33, 11.9, 12.8, 13.6, 14.4, 15.3],
  [34, 11.2, 12.3, 13.2, 14.0, 14.8, 15.7],
  [35, 11.7, 12.6, 13.4, 14.2, 15.1, 16.4],
  [36, 11.0, 12.1, 13.0, 13.8, 14.6, 15.5],
  [37, 11.6, 12.5, 13.3, 14.1, 14.9],
  [38, 11.1, 12.2, 13.1, 13.9, 14.7, 15.8],
  [39, 11.5, 12.4, 13.2, 14.0, 14.8],
  [40, 10.9, 12.0, 12.9, 13.7, 14.5, 15.4],
  [41, 11.4, 12.3, 13.1, 13.9, 14.7],
  [42, 10.7, 11.8, 12.7, 13.5, 14.3, 15.6],
  [43, 11.2, 12.1, 12.9, 13.7, 14.5],
  [44, 9.8, 11.0, 11.9, 12.8, 13.6, 14.4],
  [45, 11.1, 12.0, 12.8, 13.6, 14.6],
  [46, 10.6, 11.7, 12.6, 13.4, 14.2, 15.2],
  [47, 11.0, 11.9, 12.7, 13.5, 14.3],
  [48, 10.4, 11.5, 12.4, 13.2, 14.0, 14.9],
  [49, 10.9, 11.8, 12.6, 13.4, 14.4],
  [50, 10.3, 11.4, 12.3, 13.1, 13.9, 15.0],
  [51, 10.8, 11.7, 12.5, 13.3, 14.1],
  [52, 10.2, 11.3, 12.2, 13.0, 13.8, 14.8],
  [53, 10.7, 11.6, 12.4, 13.2, 14.2],
  [54, 10.1, 11.2, 12.1, 12.9, 13.7, 14.6],
  [55, 10.0, 10.7, 11.3, 11.9, 12.4, 12.9, 13.5, 14.3],
  [56, 10.3, 10.9, 11.5, 12.1, 12.6, 13.2, 13.9],
  [57, 9.8, 10.5, 11.1, 11.7, 12.2, 12.8, 13.4, 14.5],
  [58, 10.2, 10.8, 11.4, 12.0, 12.5, 13.1, 13.8],
  [59, 9.7, 10.4, 11.0, 11.6, 12.1, 12.7, 13.3, 14.2],
  [60, 9.6, 10.2, 10.8, 11.3, 11.8, 12.3, 12.8, 13.4, 14.1],
  [61, 9.9, 10.5, 11.1, 11.6, 12.1, 12.6, 13.2, 14.0],
  [62, 9.4, 10.1, 10.7, 11.2, 11.7, 12.2, 12.7, 13.4],
  [63, 9.8, 10.4, 11.0, 11.5, 12.0, 12.5, 13.1, 13.9],
  [64, 7.3, 9.3, 10.0, 10.6, 11.1, 11.6, 12.1, 12.7, 13.5],
  [65, 9.6, 10.3, 10.9, 11.4, 11.9, 12.4, 13.0, 13.8],
  [66, 9.1, 9.8, 10.4, 11.0, 11.5, 12.0, 12.5, 13.2],
  [67, 9.5, 10.2, 10.8, 11.3, 11.8, 12.3, 12.9, 13.7, 24.9],
  [68, 8.9, 9.6, 10.3, 10.9, 11.4, 11.9, 12.5, 13.3],
  [69, 9.3, 10.0, 10.6, 11.1, 11.6, 12.2, 12.8, 13.6],
  [70, 8.8, 9.5, 10.2, 10.8, 11.3, 11.8, 12.4, 13.1],
  [71, 9.2, 9.9, 10.5, 11.0, 11.5, 12.1, 12.7],
  [72, 8.6, 9.4, 10.1, 10.7, 11.2, 11.7, 12.3, 13.0],
  [73, 9.0, 9.7, 10.3, 10.9, 11.4, 12.0, 12.6, 14.5],
  [74, 8.5, 9.3, 10.0, 10.6, 11.1, 11.6, 12.2],
  [75, 8.9, 9.6, 10.2, 10.8, 11.3, 11.9, 12.6],
  [76, 8.4, 9.2, 9.9, 10.5, 11.0, 11.5, 12.1],
  [77, 8.8, 9.5, 10.1, 10.7, 11.2, 11.8],
  [78, 8.3, 9.1, 9.8, 10.4, 10.9, 11.5, 12.3],
  [79, 8.7, 9.4, 10.0, 10.6, 11.2],
  [80, 8.2, 9.0, 9.7, 10.3, 10.9, 11.6],
  [81, 8.6, 9.3, 10.0, 10.7],
  [82, 8.1, 8.9, 9.6, 10.3, 11.0],
  [83, 8.5, 9.2, 9.9, 10.6],
  [84, 8.0, 8.8, 9.5, 10.2],
  [85, 8.4, 9.1, 9.8],
  [86, 7.8, 8.6, 9.4, 10.1],
  [87, 7.9, 8.7, 9.6],
  [88, 8.2, 9.0, 9.9],
  [89, 8.8, 9.7],
  [90, 9.2, 9.9],
  [91, 9.5, 10.0],
  [92, 8.8, 9.8],
  [93, 7.9],
];

const WB_M: number[][] = [
  [18, 42.5, 44.5, 46.0, 47.5, 48.8, 50.0, 51.2, 52.4, 53.6, 54.9, 56.3, 57.8, 59.5, 61.5, 64.5, 69.7],
  [19, 43.2, 45.0, 46.6, 48.0, 49.3, 50.5, 51.7, 52.9, 54.2, 55.6, 57.1, 58.8, 60.8, 65.0],
  [20, 43.0, 44.8, 46.4, 47.9, 49.2, 50.4, 51.6, 52.8, 54.1, 55.5, 57.0, 58.7, 60.6, 62.8],
  [21, 43.8, 45.5, 47.0, 48.4, 49.7, 50.9, 52.1, 53.4, 54.8, 56.3, 58.0, 60.1, 68.5],
  [22, 43.5, 45.3, 46.9, 48.3, 49.6, 50.9, 52.2, 53.5, 54.9, 56.5, 58.3, 61.0, 68.2],
  [23, 44.2, 45.9, 47.4, 48.8, 50.1, 51.4, 52.7, 54.1, 55.6, 57.3, 59.5, 62.4],
  [24, 44.0, 45.8, 47.4, 48.9, 50.3, 51.7, 53.1, 54.6, 56.3, 58.5, 63.8, 69.5],
  [25, 44.5, 47.2, 49.6, 51.8, 54.0, 56.8, 60.5],
  [26, 43.8, 46.5, 49.0, 51.3, 53.6, 56.2, 59.0],
  [27, 45.2, 47.8, 50.2, 52.5, 55.0, 57.9],
  [28, 44.0, 46.9, 49.4, 51.8, 54.3, 57.2, 60.2],
  [29, 45.5, 48.1, 50.5, 52.9, 55.5, 58.6],
  [30, 44.3, 47.1, 49.6, 52.0, 54.6, 57.5, 66.5],
  [31, 45.8, 48.4, 50.8, 53.2, 55.9, 59.2],
  [32, 44.6, 47.4, 49.9, 52.3, 54.9, 57.8, 68.0],
  [33, 46.0, 48.6, 51.0, 53.4, 56.1, 60.0],
  [34, 44.8, 47.6, 50.1, 52.5, 55.1, 58.2, 69.0],
  [35, 46.2, 48.8, 51.2, 53.6, 56.3, 59.5, 72.2],
  [36, 45.0, 47.8, 50.3, 52.7, 55.4, 58.8, 63.0],
  [37, 46.4, 49.0, 51.4, 53.8, 56.5, 60.4, 66.0],
  [38, 45.2, 48.0, 50.5, 52.9, 55.6, 58.5, 62.5],
  [39, 46.5, 49.1, 51.5, 53.9, 56.7, 61.2],
  [40, 45.3, 48.1, 50.6, 53.0, 55.8, 59.0, 64.8],
  [41, 46.6, 49.2, 51.6, 54.0, 56.8, 60.5, 65.5],
  [42, 45.4, 48.2, 50.7, 53.1, 55.9, 58.4],
  [43, 46.6, 49.2, 51.6, 54.0, 56.8, 61.5, 66.1],
  [44, 45.3, 48.1, 50.6, 53.0, 55.8, 59.8],
  [45, 44.2, 46.5, 49.1, 51.5, 53.9, 56.7, 63.2],
  [46, 45.2, 48.0, 50.5, 52.9, 55.7, 58.6],
  [47, 46.3, 48.9, 51.3, 53.7, 56.5, 61.0],
  [48, 44.9, 47.7, 50.2, 52.6, 55.4, 58.0],
  [49, 46.0, 48.6, 51.0, 53.4, 56.2],
  [50, 44.6, 47.4, 49.9, 52.3, 55.1, 58.8, 63.8],
  [51, 45.6, 48.2, 50.6, 53.0, 55.8],
  [52, 44.2, 47.0, 49.5, 51.9, 54.7, 57.6],
  [53, 45.2, 47.8, 50.2, 52.6, 55.4, 59.5],
  [54, 43.8, 46.6, 49.1, 51.5, 54.3, 57.0],
  [55, 43.5, 45.6, 47.5, 49.2, 50.8, 52.4, 54.2, 56.5, 64.6],
  [56, 44.3, 46.3, 48.1, 49.8, 51.4, 53.1, 55.0, 57.6],
  [57, 43.0, 45.1, 47.0, 48.7, 50.3, 51.9, 53.7, 56.0, 59.5],
  [58, 43.8, 45.8, 47.6, 49.3, 50.9, 52.6, 54.6, 57.2],
  [59, 42.6, 44.7, 46.6, 48.3, 49.9, 51.5, 53.3, 55.5, 62.5],
  [60, 42.3, 44.3, 46.1, 47.7, 49.2, 50.7, 52.3, 54.2, 56.8],
  [61, 43.0, 45.0, 46.7, 48.3, 49.8, 51.4, 53.1, 55.3],
  [62, 41.8, 43.8, 45.6, 47.2, 48.7, 50.2, 51.8, 53.7, 56.0, 60.5],
  [63, 42.5, 44.5, 46.2, 47.8, 49.3, 50.9, 52.6, 54.8, 58.5],
  [64, 41.4, 43.4, 45.2, 46.8, 48.3, 49.8, 51.4, 53.3, 55.6],
  [65, 42.0, 44.0, 45.7, 47.3, 48.8, 50.4, 52.1, 54.2, 57.5, 62.0],
  [66, 40.9, 42.9, 44.7, 46.3, 47.8, 49.3, 50.9, 52.8, 55.2, 61.5],
  [67, 41.6, 43.6, 45.3, 46.9, 48.4, 50.0, 51.7, 53.8, 56.5, 61.0],
  [68, 40.5, 42.5, 44.3, 45.9, 47.4, 48.9, 50.5, 52.4, 54.8],
  [69, 41.2, 43.2, 44.9, 46.5, 48.0, 49.6, 51.3, 53.4, 56.0],
  [70, 40.1, 42.1, 43.9, 45.5, 47.0, 48.5, 50.1, 52.0, 54.5, 59.0],
  [71, 40.8, 42.8, 44.5, 46.1, 47.6, 49.2, 50.9, 53.0, 55.5],
  [72, 39.6, 41.6, 43.4, 45.0, 46.5, 48.0, 49.6, 51.5, 53.8, 57.0],
  [73, 40.3, 42.3, 44.0, 45.6, 47.1, 48.7, 50.4, 52.5, 55.0],
  [74, 39.2, 41.2, 43.0, 44.6, 46.1, 47.6, 49.2, 51.1, 53.5],
  [75, 39.9, 41.9, 43.6, 45.2, 46.7, 48.3, 50.0, 52.2, 55.5],
  [76, 38.8, 40.8, 42.6, 44.2, 45.7, 47.2, 48.8, 50.8, 53.0],
  [77, 39.5, 41.5, 43.2, 44.8, 46.3, 47.9, 49.6, 51.8, 54.5],
  [78, 38.5, 40.5, 42.3, 43.9, 45.4, 46.9, 48.5, 50.5, 56.0],
  [79, 39.1, 41.1, 42.8, 44.4, 45.9, 47.5, 49.3],
  [80, 38.0, 40.0, 41.8, 43.4, 44.9, 46.5, 48.2, 52.8],
  [81, 38.7, 40.7, 42.4, 44.0, 45.6, 47.3, 52.5],
  [82, 37.6, 39.6, 41.4, 43.0, 44.6, 46.4, 49.0],
  [83, 38.3, 40.3, 42.0, 43.7, 45.5],
  [84, 37.2, 39.2, 41.0, 42.7, 44.5, 47.8],
  [85, 38.0, 40.0, 41.8, 43.6],
  [86, 37.0, 39.2, 41.2, 43.0, 45.0],
  [87, 38.2, 40.5, 42.5, 44.5],
  [88, 37.5, 39.5, 41.5],
  [89, 38.5, 40.5],
  [90, 36.5, 39.0],
  [91, 37.0, 42.0],
  [92, 36.0, 39.5, 40.5],
  [96, 42.5],
  [97, 43.5],
  [18, 43.5, 45.3, 46.8, 48.2, 49.4, 50.6, 51.8, 53.0, 54.2, 55.6, 57.0],
  [19, 44.1, 45.8, 47.3, 48.7, 49.9, 51.1, 52.3, 53.5, 54.9, 56.3],
  [20, 43.9, 45.6, 47.2, 48.6, 49.8, 51.0, 52.2, 53.4, 54.8, 56.2],
  [21, 44.6, 46.2, 47.7, 49.0, 50.3, 51.5, 52.8, 54.1, 55.5],
  [22, 44.4, 46.1, 47.6, 49.0, 50.3, 51.6, 52.9, 54.2, 55.7],
  [23, 45.0, 46.6, 48.1, 49.4, 50.8, 52.0, 53.4, 54.9],
  [24, 44.9, 46.6, 48.1, 49.6, 51.0, 52.4, 53.9],
];

const WB_F: number[][] = [
  [18, 29.0, 30.2, 31.2, 32.1, 32.9, 33.7, 34.5, 35.3, 36.1, 36.9, 37.8, 38.8, 39.9, 41.2, 42.8],
  [19, 29.5, 30.6, 31.6, 32.5, 33.3, 34.1, 34.9, 35.7, 36.5, 37.4, 38.4, 39.5, 41.0, 43.5],
  [20, 29.8, 30.9, 31.9, 32.8, 33.6, 34.4, 35.2, 36.0, 36.9, 37.8, 38.9, 40.2, 41.8],
  [21, 30.0, 31.1, 32.1, 33.0, 33.8, 34.6, 35.4, 36.3, 37.2, 38.2, 39.4, 40.8, 43.0],
  [22, 29.6, 30.8, 31.8, 32.7, 33.6, 34.5, 35.4, 36.3, 37.3, 38.4, 39.8, 41.5],
  [23, 30.2, 31.3, 32.3, 33.2, 34.1, 35.0, 35.9, 36.8, 37.8, 39.0, 40.5],
  [24, 29.9, 31.1, 32.2, 33.2, 34.1, 35.0, 36.0, 37.0, 38.1, 39.4, 41.2],
  [25, 30.5, 32.2, 33.7, 35.1, 36.5, 38.1, 40.2],
  [26, 28.0, 31.2, 33.0, 34.5, 36.0, 37.6, 39.5],
  [27, 30.8, 32.5, 34.0, 35.4, 36.9, 38.6, 41.0],
  [28, 29.8, 31.8, 33.4, 34.9, 36.4, 38.0, 40.0],
  [29, 31.0, 32.7, 34.2, 35.6, 37.1, 38.8, 41.5],
  [30, 29.5, 31.5, 33.2, 34.7, 36.2, 37.8, 39.8],
  [31, 30.9, 32.6, 34.1, 35.5, 37.0, 38.7, 42.0],
  [32, 29.2, 31.3, 33.0, 34.6, 36.1, 37.7, 39.6],
  [33, 31.1, 32.8, 34.3, 35.7, 37.2, 38.9, 41.3],
  [34, 29.7, 31.7, 33.4, 34.9, 36.4, 38.0, 40.3],
  [35, 31.2, 32.9, 34.4, 35.8, 37.3, 39.0, 42.5],
  [36, 29.9, 31.9, 33.6, 35.1, 36.6, 38.2, 40.5],
  [37, 31.3, 33.0, 34.5, 35.9, 37.4, 39.1, 41.8],
  [38, 29.4, 31.6, 33.4, 35.0, 36.5, 38.1, 40.1, 43.0],
  [39, 31.4, 33.1, 34.6, 36.0, 37.5, 39.2, 41.5],
  [40, 30.0, 32.0, 33.7, 35.2, 36.7, 38.3, 40.4],
  [41, 31.5, 33.2, 34.7, 36.1, 37.6, 39.4, 42.2],
  [42, 30.1, 32.1, 33.8, 35.3, 36.8, 38.4, 40.6],
  [43, 31.4, 33.1, 34.6, 36.0, 37.5, 39.3, 41.0],
  [44, 28.5, 31.8, 33.6, 35.2, 36.7, 38.3, 40.2],
  [45, 31.2, 32.9, 34.4, 35.8, 37.3, 39.1, 41.5],
  [46, 29.8, 31.8, 33.5, 35.0, 36.5, 38.1, 40.3],
  [47, 30.9, 32.6, 34.1, 35.5, 37.0, 38.8, 42.5],
  [48, 29.5, 31.5, 33.2, 34.7, 36.2, 37.8, 39.9],
  [49, 30.6, 32.3, 33.8, 35.2, 36.7, 38.5, 40.8],
  [50, 29.2, 31.2, 32.9, 34.4, 35.9, 37.5, 39.6, 42.0],
  [51, 30.3, 32.0, 33.5, 34.9, 36.4, 38.2],
  [52, 28.8, 30.9, 32.6, 34.1, 35.6, 37.2, 39.3, 41.6],
  [53, 30.0, 31.7, 33.2, 34.6, 36.1, 37.9, 40.2],
  [54, 28.5, 30.6, 32.3, 33.8, 35.3, 36.9, 39.0],
  [55, 28.6, 30.0, 31.3, 32.5, 33.6, 34.7, 35.9, 37.2, 39.0],
  [56, 29.3, 30.6, 31.8, 32.9, 34.0, 35.2, 36.5, 38.2, 40.8],
  [57, 28.2, 29.6, 30.9, 32.1, 33.2, 34.3, 35.5, 36.8, 38.6],
  [58, 28.9, 30.2, 31.4, 32.5, 33.6, 34.8, 36.1, 37.8, 40.0],
  [59, 27.8, 29.2, 30.5, 31.7, 32.8, 33.9, 35.1, 36.4, 38.2],
  [60, 27.6, 29.0, 30.3, 31.5, 32.6, 33.7, 34.8, 36.0, 37.4, 39.5],
  [61, 28.3, 29.6, 30.8, 31.9, 33.0, 34.1, 35.3, 36.7, 38.6],
  [62, 27.2, 28.6, 29.9, 31.1, 32.2, 33.3, 34.4, 35.6, 37.0, 39.0],
  [63, 27.9, 29.2, 30.4, 31.5, 32.6, 33.7, 34.9, 36.3, 38.2],
  [64, 26.8, 28.2, 29.5, 30.7, 31.8, 32.9, 34.0, 35.2, 36.6, 38.5],
  [65, 21.3, 27.5, 28.8, 30.0, 31.1, 32.2, 33.3, 34.5, 35.9, 37.8],
  [66, 26.4, 27.8, 29.1, 30.3, 31.4, 32.5, 33.6, 34.8, 36.2, 38.0],
  [67, 27.1, 28.4, 29.6, 30.7, 31.8, 32.9, 34.1, 35.5, 37.4],
  [68, 26.0, 27.4, 28.7, 29.9, 31.0, 32.1, 33.2, 34.4, 35.8, 37.6],
  [69, 26.7, 28.0, 29.2, 30.3, 31.4, 32.5, 33.7, 35.1, 37.0],
  [70, 25.8, 27.2, 28.5, 29.7, 30.8, 31.9, 33.0, 34.2, 35.6, 38.2],
  [71, 26.5, 27.8, 29.0, 30.1, 31.2, 32.3, 33.5, 34.9, 36.8],
  [72, 25.6, 27.0, 28.3, 29.5, 30.6, 31.7, 32.8, 34.0, 35.4],
  [73, 26.3, 27.6, 28.8, 29.9, 31.0, 32.1, 33.3, 34.7, 36.5],
  [74, 25.5, 26.9, 28.2, 29.4, 30.5, 31.6, 32.7, 33.9],
  [75, 26.2, 27.5, 28.7, 29.8, 30.9, 32.0, 33.2, 34.6],
  [76, 25.3, 26.7, 28.0, 29.2, 30.3, 31.4, 32.5, 33.8],
  [77, 26.0, 27.3, 28.5, 29.6, 30.7, 31.8, 33.0, 35.5],
  [78, 25.2, 26.6, 27.9, 29.1, 30.2, 31.3, 32.5, 34.2],
  [79, 25.9, 27.2, 28.4, 29.5, 30.6, 31.7, 33.0],
  [80, 25.8, 27.2, 28.5, 29.7, 30.8, 32.0],
  [81, 26.5, 27.9, 29.2, 30.4, 31.6],
  [82, 26.0, 27.4, 28.7, 29.9, 31.2, 33.0],
  [83, 26.8, 28.2, 29.5, 30.8],
  [84, 26.3, 27.7, 29.0, 30.3, 31.8],
  [85, 27.0, 28.5, 29.9, 31.2],
  [86, 26.7, 28.2, 29.7],
  [87, 26.9, 28.6, 30.5],
  [88, 27.5, 29.4, 31.5],
  [89, 28.2, 30.2],
  [90, 27.3, 29.5],
  [91, 30.0, 32.0],
  [92, 27.5, 31.8],
  [93, 28.5],
];

// Regression curves read at these ages
const LINE_AGES = [13.5, 20, 30, 40, 50, 60, 70, 80, 90, 100, 104.5];
const UL_LINE_M = [5.40, 5.51, 5.60, 5.58, 5.45, 5.23, 4.89, 4.45, 3.91, 3.26, 2.93];
const UL_LINE_F = [3.19, 3.24, 3.31, 3.35, 3.35, 3.27, 3.12, 2.90, 2.69, 2.48, 2.38];
const TR_LINE_M = [24.86, 26.06, 27.39, 28.10, 28.19, 27.66, 26.52, 24.76, 22.38, 19.34, 17.78];
const TR_LINE_F = [17.93, 18.63, 19.45, 19.95, 20.13, 19.99, 19.53, 18.75, 17.65, 16.23, 15.49];
const LL_LINE_M = [20.89, 20.77, 20.37, 19.71, 18.79, 17.61, 16.17, 14.47, 12.51, 10.29, 9.21];
const LL_LINE_F = [14.64, 14.38, 13.91, 13.36, 12.73, 12.02, 11.23, 10.36, 9.41, 8.38, 7.89];
const WB_LINE_M = [51.12, 52.32, 53.34, 53.36, 52.38, 50.40, 47.42, 43.44, 38.46, 32.48, 29.46];
const WB_LINE_F = [35.75, 36.27, 36.71, 36.71, 36.27, 35.39, 34.07, 32.31, 30.11, 27.47, 26.14];

const X_TICKS = [20, 40, 60, 80, 100];
const UL_TICKS = [0, 2, 4, 6, 8, 10];
const TR_TICKS = [10, 20, 30, 40];
const LL_TICKS = [5, 10, 15, 20, 25, 30];
const WB_TICKS = [20, 30, 40, 50, 60, 70, 80];

const LEGEND_M = "男性 (1702)";
const LEGEND_F = "女性 (2301)";

const TITLES = [
  ["図1", "年齢に伴う上肢筋肉量の変化"],
  ["図3", "年齢に伴う体幹部筋肉量の変化"],
  ["図2", "年齢に伴う下肢筋肉量の変化"],
  ["図4", "年齢に伴う全身筋肉量の変化"],
];
const EQUATIONS = [
  [
    "男性：上肢筋肉量 = 0.035（年齢）− 0.0005（年齢²）+ 5.02",
    "R² = 0.266（p < 0.001）",
    "女性：上肢筋肉量 = 0.019（年齢）− 0.0002（年齢²）+ 2.96",
    "R² = 0.077（p < 0.001）",
  ],
  [
    "男性:体幹部筋肉量 = 0.288（年齢）− 0.0031（年齢²）+ 21.54",
    "R² = 0.153（p < 0.001）",
    "女性:体幹部筋肉量 = 0.162（年齢）− 0.0016（年齢²）+ 16.03",
    "R² = 0.553（p < 0.001）",
  ],
  [
    "男性：下肢筋肉量 = 0.025（年齢）− 0.0013（年齢²）+ 20.79",
    "R² = 0.491（p < 0.001）",
    "女性:下肢筋肉量 = − 0.027（年齢）− 0.0004（年齢²）+ 15.08",
    "R² = 0.553（p < 0.001）",
  ],
  [
    "男性：全身筋肉量 = 0.352（年齢）− 0.0050（年齢²）+ 47.28",
    "R² = 0.303（p < 0.001）",
    "女性：全身筋肉量 = 0.154（年齢）− 0.0022（年齢²）+ 34.07",
    "R² = 0.229（p < 0.001）",
  ],
];
const Y_NAMES = [
  ["上", "肢", "筋", "肉", "量"],
  ["体", "幹", "部", "筋", "肉", "量"],
  ["下", "肢", "筋", "肉", "量"],
  ["全", "身", "筋", "肉", "量"],
];

// ---------- LAYOUT ----------
const SERIF = "'Liberation Serif', 'Noto Sans CJK JP', serif";
const CJK = "'Noto Sans CJK JP', 'Liberation Serif', sans-serif";

const PANELS = [
  {
    grid: { left: 51.7, top: 7, width: 243.4, height: 203 },
    yMin: 0, yMax: 10.5, ticks: UL_TICKS, male: UL_M, female: UL_F, lineM: UL_LINE_M, lineF: UL_LINE_F,
    yName: { x: 18, y0: 61, step: 19.3, kg: 165 },
    legend: { sx: 224, tx: 240, y1: 40, y2: 52 },
    xName: { y: 238.5, a: 122, b: 147, c: 187 },
    title: { cx: 155, y: 258 },
    eq: { x: 20, ys: [274, 289, 304, 319] },
  },
  {
    grid: { left: 370.3, top: 7.3, width: 239.4, height: 197.7 },
    yMin: 10, yMax: 41.6, ticks: TR_TICKS, male: TR_M, female: TR_F, lineM: TR_LINE_M, lineF: TR_LINE_F,
    yName: { x: 336, y0: 40, step: 20.5, kg: 167 },
    legend: { sx: 536, tx: 553, y1: 20, y2: 33 },
    xName: { y: 235, a: 443.5, b: 465, c: 505 },
    title: { cx: 469, y: 254.3 },
    eq: { x: 334.7, ys: [268, 283.5, 299, 314.3] },
  },
  {
    grid: { left: 50, top: 365, width: 245, height: 202.3 },
    yMin: 5, yMax: 31.4, ticks: LL_TICKS, male: LL_M, female: LL_F, lineM: LL_LINE_M, lineF: LL_LINE_F,
    yName: { x: 19, y0: 403, step: 20, kg: 508 },
    legend: { sx: 223, tx: 240, y1: 365, y2: 377 },
    xName: { y: 594.5, a: 125.5, b: 147, c: 187 },
    title: { cx: 152, y: 617 },
    eq: { x: 21.7, ys: [630.5, 646, 661, 676] },
  },
  {
    grid: { left: 371.3, top: 362, width: 238.4, height: 207.3 },
    yMin: 20, yMax: 83, ticks: WB_TICKS, male: WB_M, female: WB_F, lineM: WB_LINE_M, lineF: WB_LINE_F,
    yName: { x: 334, y0: 412, step: 19.8, kg: 514 },
    legend: { sx: 540, tx: 555, y1: 382, y2: 393.5 },
    xName: { y: 594.5, a: 441, b: 460, c: 505 },
    title: { cx: 469, y: 617 },
    eq: { x: 334.7, ys: [630.5, 646, 661, 676] },
  },
];

function toPoints(rows: number[][]): number[][] {
  const out: number[][] = [];
  rows.forEach((r) => {
    for (let i = 1; i < r.length; i++) out.push([r[0], r[i]]);
  });
  return out;
}

function buildOption() {
  const AXIS_COLOR = "#8c8c8c";
  const labelStyle = { fontSize: 11, fontWeight: "bold", color: "#444", fontFamily: SERIF };
  const grid: any[] = [];
  const xAxis: any[] = [];
  const yAxis: any[] = [];
  const series: any[] = [];
  const graphic: any[] = [];

  PANELS.forEach((p, i) => {
    grid.push({ ...p.grid, containLabel: false, outerBoundsMode: "none" });
    xAxis.push({
      type: "value", gridIndex: i, min: 13.5, max: 104.5,
      axisLine: { show: true, onZero: false, lineStyle: { color: AXIS_COLOR, width: 1 } },
      axisTick: { show: true, length: 4, customValues: X_TICKS, lineStyle: { color: AXIS_COLOR } },
      axisLabel: { ...labelStyle, margin: 5.5, customValues: X_TICKS },
      splitLine: { show: false },
    });
    yAxis.push({
      type: "value", gridIndex: i, min: p.yMin, max: p.yMax,
      axisLine: { show: true, onZero: false, lineStyle: { color: AXIS_COLOR, width: 1 } },
      axisTick: { show: true, length: 4, customValues: p.ticks, lineStyle: { color: AXIS_COLOR } },
      axisLabel: { ...labelStyle, margin: 6, customValues: p.ticks },
      splitLine: { show: false },
    });
    series.push({
      type: "scatter", xAxisIndex: i, yAxisIndex: i, name: "male" + i,
      data: toPoints(p.male), symbol: "rect", symbolSize: 2.7,
      itemStyle: { color: "#000" }, z: 2, silent: true,
    });
    series.push({
      type: "scatter", xAxisIndex: i, yAxisIndex: i, name: "female" + i,
      data: toPoints(p.female), symbol: "circle", symbolSize: 3.2,
      itemStyle: { color: "#b0b0b0", borderColor: "#6f6f6f", borderWidth: 0.6 }, z: 3, silent: true,
    });
    [p.lineM, p.lineF].forEach((vals, k) => {
      series.push({
        type: "line", xAxisIndex: i, yAxisIndex: i, name: "fit" + i + "_" + k,
        data: LINE_AGES.map((a, j) => [a, vals[j]]), smooth: true, showSymbol: false,
        lineStyle: { color: "#3a3a3a", width: 1 }, z: 5, silent: true,
      });
    });

    // y axis name (vertical)
    Y_NAMES[i].forEach((ch, j) => {
      graphic.push({
        type: "text", x: p.yName.x, y: p.yName.y0 + j * p.yName.step,
        style: { text: ch, fontSize: 12, fontFamily: CJK, fill: "#222", textAlign: "center", textVerticalAlign: "middle" },
      });
    });
    graphic.push({
      type: "text", x: p.yName.x, y: p.yName.kg,
      style: { text: "(kg)", fontSize: 11.5, fontFamily: SERIF, fill: "#222", textAlign: "center", textVerticalAlign: "middle" },
    });

    // legend
    graphic.push({ type: "circle", shape: { cx: p.legend.sx, cy: p.legend.y1, r: 3.6 }, style: { fill: "#000" } });
    graphic.push({ type: "circle", shape: { cx: p.legend.sx, cy: p.legend.y2, r: 3.4 }, style: { fill: "#fff", stroke: "#000", lineWidth: 0.8 } });
    graphic.push({
      type: "text", x: p.legend.tx, y: p.legend.y1,
      style: { text: LEGEND_M, fontSize: 11, fontFamily: SERIF, fill: "#222", textVerticalAlign: "middle" },
    });
    graphic.push({
      type: "text", x: p.legend.tx, y: p.legend.y2,
      style: { text: LEGEND_F, fontSize: 11, fontFamily: SERIF, fill: "#222", textVerticalAlign: "middle" },
    });

    // x axis name
    const xn = [["年", p.xName.a], ["齢", p.xName.b], ["(歳)", p.xName.c]] as [string, number][];
    xn.forEach(([t, x]) => {
      graphic.push({
        type: "text", x, y: p.xName.y,
        style: { text: t, fontSize: 11.5, fontWeight: "bold", fontFamily: CJK, fill: "#222", textAlign: "center", textVerticalAlign: "middle" },
      });
    });

    // caption title
    graphic.push({
      type: "text", x: p.title.cx, y: p.title.y,
      style: {
        text: "{a|" + TITLES[i][0] + "}　{b|" + TITLES[i][1] + "}",
        fontSize: 11, fontFamily: CJK, fill: "#111", textAlign: "center", textVerticalAlign: "middle",
        rich: {
          a: { fontSize: 11.5, fontWeight: "bold", fontFamily: CJK, fill: "#111" },
          b: { fontSize: 11, fontFamily: CJK, fill: "#111" },
        },
      },
    });
    // equations
    EQUATIONS[i].forEach((t, j) => {
      graphic.push({
        type: "text", x: p.eq.x, y: p.eq.ys[j],
        style: { text: t, fontSize: 10, fontFamily: SERIF, fill: "#222", textAlign: "left", textVerticalAlign: "middle" },
      });
    });
  });

  return { animation: false, backgroundColor: "#fff", grid, xAxis, yAxis, series, graphic };
}

export default function App() {
  const ref = useRef<HTMLDivElement>(null);
  useEffect(() => {
    if (!ref.current) return;
    const chart = echarts.init(ref.current, undefined, { renderer: "svg" });
    chart.setOption(buildOption() as any);
    return () => chart.dispose();
  }, []);
  return (
    <div
      ref={ref}
      style={{ position: "absolute", left: 0, top: 0, width: 626, height: 697, background: "#fff" }}
    />
  );
}
